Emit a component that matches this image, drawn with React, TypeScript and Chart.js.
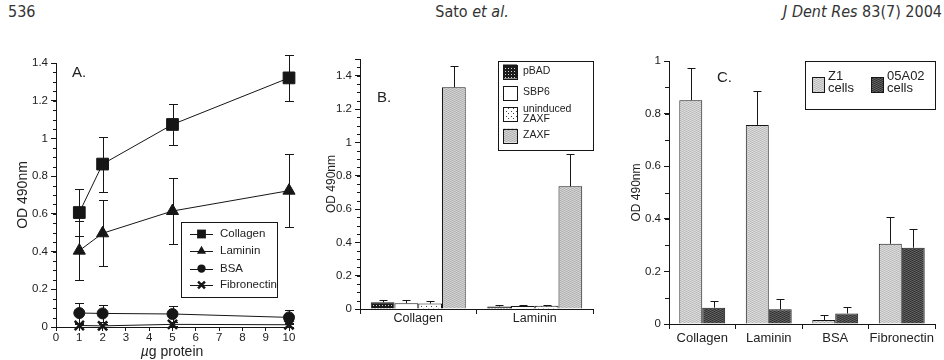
import React, { useEffect, useRef } from 'react';
import { Chart, registerables } from 'chart.js';

Chart.register(...registerables);

const FONT = "'Liberation Sans', Arial, Helvetica, sans-serif";
Chart.defaults.font.family = FONT;

// ---------- Panel A data ----------
const doseA = [1, 2, 5, 10];
const seriesNamesA = ['Collagen', 'Laminin', 'BSA', 'Fibronectin'];
const collagenA = [0.607, 0.864, 1.074, 1.321];
const collagenAErr = [0.125, 0.146, 0.11, 0.12];
const lamininA = [0.405, 0.497, 0.615, 0.723];
const lamininAErr = [0.155, 0.175, 0.177, 0.195];
const bsaA = [0.074, 0.072, 0.069, 0.051];
const bsaAErr = [0.053, 0.043, 0.04, 0.037];
const fibronectinA = [0.008, 0.006, 0.014, 0.012];
const fibronectinAErr = [0.008, 0.008, 0.01, 0.01];
const xTicksA = [0, 10];
const yRangeA = [0, 1.4];

// ---------- Panel B data ----------
const categoriesB = ['Collagen', 'Laminin'];
const seriesNamesB = ['pBAD', 'SBP6', 'uninduced\nZAXF', 'ZAXF'];
const pBAD = [0.04, 0.015];
const pBADErr = [0.015, 0.01];
const sbp6 = [0.035, 0.018];
const sbp6Err = [0.02, 0.006];
const uninducedZAXF = [0.033, 0.02];
const uninducedZAXFErr = [0.017, 0.004];
const zaxf = [1.33, 0.736];
const zaxfErr = [0.126, 0.193];
const yRangeB = [0, 1.5];

// ---------- Panel C data ----------
const categoriesC = ['Collagen', 'Laminin', 'BSA', 'Fibronectin'];
const seriesNamesC = ['Z1\ncells', '05A02\ncells'];
const z1Cells = [0.851, 0.757, 0.015, 0.305];
const z1CellsErr = [0.122, 0.13, 0.019, 0.1];
const a02Cells = [0.062, 0.056, 0.04, 0.29];
const a02CellsErr = [0.025, 0.04, 0.023, 0.072];
const yRangeC = [0, 1];

const INK = '#161616';

// ---------- helpers ----------
function makePattern(kind: string): any {
  const c = document.createElement('canvas');
  const g = c.getContext('2d') as CanvasRenderingContext2D;
  if (kind === 'grid') {
    c.width = 3; c.height = 3;
    g.fillStyle = '#1a1a1a'; g.fillRect(0, 0, 3, 3);
    g.fillStyle = '#cfcfcf'; g.fillRect(1, 1, 1, 1);
  } else if (kind === 'dots') {
    c.width = 5; c.height = 5;
    g.fillStyle = '#ffffff'; g.fillRect(0, 0, 5, 5);
    g.fillStyle = '#444'; g.fillRect(1, 1, 1, 1); g.fillRect(3, 3, 1, 1);
  } else if (kind === 'light') {
    c.width = 4; c.height = 2;
    g.fillStyle = '#c4c4c4'; g.fillRect(0, 0, 4, 2);
    g.fillStyle = '#acacac'; g.fillRect(0, 0, 1, 1); g.fillRect(2, 1, 1, 1);
    g.fillStyle = '#d8d8d8'; g.fillRect(2, 0, 1, 1); g.fillRect(0, 1, 1, 1);
  } else if (kind === 'lighter') {
    c.width = 4; c.height = 2;
    g.fillStyle = '#cdcdcd'; g.fillRect(0, 0, 4, 2);
    g.fillStyle = '#b6b6b6'; g.fillRect(0, 0, 1, 1); g.fillRect(2, 1, 1, 1);
    g.fillStyle = '#e0e0e0'; g.fillRect(2, 0, 1, 1); g.fillRect(0, 1, 1, 1);
  } else {
    c.width = 4; c.height = 2;
    g.fillStyle = '#4a4a4a'; g.fillRect(0, 0, 4, 2);
    g.fillStyle = '#2e2e2e'; g.fillRect(0, 0, 1, 1); g.fillRect(2, 1, 1, 1);
    g.fillStyle = '#666666'; g.fillRect(2, 0, 1, 1); g.fillRect(0, 1, 1, 1);
  }
  return g.createPattern(c, 'repeat');
}

function drawMarker(ctx: CanvasRenderingContext2D, style: string, x: number, y: number, r: number, bw: number) {
  ctx.save();
  ctx.fillStyle = INK; ctx.strokeStyle = INK; ctx.lineWidth = bw;
  ctx.beginPath();
  if (style === 'rect') {
    const s = r * Math.SQRT2;
    ctx.rect(x - s / 2, y - s / 2, s, s); ctx.fill();
  } else if (style === 'triangle') {
    let a = 0;
    ctx.moveTo(x + Math.sin(a) * r, y - Math.cos(a) * r);
    a += (2 * Math.PI) / 3; ctx.lineTo(x + Math.sin(a) * r, y - Math.cos(a) * r);
    a += (2 * Math.PI) / 3; ctx.lineTo(x + Math.sin(a) * r, y - Math.cos(a) * r);
    ctx.closePath(); ctx.fill();
  } else if (style === 'circle') {
    ctx.arc(x, y, r, 0, Math.PI * 2); ctx.fill();
  } else {
    const o = r * Math.SQRT1_2;
    ctx.moveTo(x - o, y - o); ctx.lineTo(x + o, y + o);
    ctx.moveTo(x - o, y + o); ctx.lineTo(x + o, y - o);
    ctx.stroke();
  }
  ctx.restore();
}

const errorBarPlugin = {
  id: 'errorBars',
  afterDatasetsDraw(chart: any) {
    const o = chart.options.plugins.errorBars;
    if (!o) return;
    const ctx = chart.ctx;
    chart.data.datasets.forEach((ds: any, i: number) => {
      if (!ds.errors) return;
      const meta = chart.getDatasetMeta(i);
      const ys = chart.scales[meta.yAxisID];
      meta.data.forEach((el: any, j: number) => {
        const d = ds.data[j];
        const v = typeof d === 'number' ? d : d.y;
        const e = ds.errors[j];
        const x = Math.round(el.x) + 0.5;
        const yv = ys.getPixelForValue(v);
        const yHi = Math.round(ys.getPixelForValue(v + e)) + 0.5;
        const yLo = Math.round(ys.getPixelForValue(Math.max(0, v - e))) + 0.5;
        ctx.save();
        ctx.strokeStyle = INK; ctx.lineWidth = 1;
        ctx.beginPath();
        ctx.moveTo(x, o.both ? yLo : yv); ctx.lineTo(x, yHi);
        ctx.moveTo(x - o.cap / 2, yHi); ctx.lineTo(x + o.cap / 2, yHi);
        if (o.both) { ctx.moveTo(x - o.cap / 2, yLo); ctx.lineTo(x + o.cap / 2, yLo); }
        ctx.stroke();
        ctx.restore();
      });
    });
  },
};

const minorTicksPlugin = {
  id: 'minorTicks',
  afterDraw(chart: any) {
    const o = chart.options.plugins.minorTicks;
    if (!o) return;
    const s = chart.scales.y;
    const ctx = chart.ctx;
    ctx.save(); ctx.strokeStyle = INK; ctx.lineWidth = 1; ctx.beginPath();
    const n = Math.round((s.max - s.min) / o.step);
    for (let k = 0; k <= n; k++) {
      const p = Math.round(s.getPixelForValue(s.min + k * o.step)) + 0.5;
      ctx.moveTo(s.right - o.len, p); ctx.lineTo(s.right, p);
    }
    ctx.stroke(); ctx.restore();
  },
};

const boxLegendPlugin = {
  id: 'boxLegend',
  afterDraw(chart: any) {
    const o = chart.options.plugins.boxLegend;
    if (!o) return;
    const ctx = chart.ctx;
    const [bx, by, bw, bh] = o.box;
    ctx.save();
    ctx.fillStyle = '#fff'; ctx.fillRect(bx, by, bw, bh);
    ctx.strokeStyle = INK; ctx.lineWidth = 1;
    ctx.strokeRect(Math.round(bx) + 0.5, Math.round(by) + 0.5, Math.round(bw), Math.round(bh));
    ctx.font = `${o.fontSize}px ${FONT}`;
    ctx.textBaseline = 'middle';
    chart.data.datasets.forEach((ds: any, i: number) => {
      const [ix, iy] = o.items[i];
      if (o.kind === 'line') {
        ctx.strokeStyle = INK; ctx.lineWidth = 1;
        ctx.beginPath(); ctx.moveTo(ix, Math.round(iy) + 0.5); ctx.lineTo(ix + o.lineLen, Math.round(iy) + 0.5); ctx.stroke();
        drawMarker(ctx, ds.pointStyle, ix + o.lineLen / 2, iy, ds.pointRadius * o.markerScale, ds.pointBorderWidth);
      } else {
        ctx.fillStyle = ds.backgroundColor;
        ctx.fillRect(ix, iy - o.swH / 2, o.swW, o.swH);
        ctx.strokeStyle = INK; ctx.lineWidth = 1;
        ctx.strokeRect(Math.round(ix) + 0.5, Math.round(iy - o.swH / 2) + 0.5, o.swW, o.swH);
      }
      const lines = String(ds.label).split('\n');
      ctx.fillStyle = '#222';
      lines.forEach((t: string, k: number) => {
        ctx.fillText(t, ix + o.textDx, iy + o.textDy + (k - (lines.length - 1) / 2) * o.lineH);
      });
    });
    ctx.restore();
  },
};

Chart.register(errorBarPlugin, minorTicksPlugin, boxLegendPlugin);

function yAxis(range: number[], width: number, step: number, titleSize: number, titlePad: number, maxLabel: number) {
  return {
    min: range[0],
    max: range[1],
    afterFit: (s: any) => { s.width = width; },
    border: { display: true, color: INK, width: 1 },
    grid: { display: true, drawOnChartArea: false, drawTicks: true, tickLength: 5, tickColor: INK },
    ticks: {
      stepSize: step,
      color: '#222',
      font: { size: 11.5 },
      padding: 3,
      callback: (v: number) => (v > maxLabel + 1e-6 ? '' : String(Math.round(v * 10) / 10)),
    },
    title: { display: true, text: 'OD 490nm', color: '#222', font: { size: titleSize }, padding: { top: titlePad, bottom: 0 } },
  };
}

function catAxis(height: number, fontSize: number, pad: number) {
  return {
    afterFit: (s: any) => { s.height = height; },
    border: { display: true, color: INK, width: 1 },
    grid: { display: true, drawOnChartArea: false, drawTicks: true, tickLength: 5, tickColor: INK, offset: true },
    ticks: { color: '#222', font: { size: fontSize }, padding: pad, maxRotation: 0, autoSkip: false },
  };
}

function configA(): any {
  const mk = (name: string, vals: number[], errs: number[], style: string, r: number, bw: number) => ({
    label: name,
    data: doseA.map((x, i) => ({ x, y: vals[i] })),
    errors: errs,
    showLine: true,
    borderColor: INK,
    borderWidth: 1,
    pointStyle: style,
    pointRadius: r,
    pointBackgroundColor: INK,
    pointBorderColor: INK,
    pointBorderWidth: bw,
    clip: false,
  });
  return {
    type: 'scatter',
    data: {
      datasets: [
        mk(seriesNamesA[0], collagenA, collagenAErr, 'rect', 8.3, 1),
        mk(seriesNamesA[1], lamininA, lamininAErr, 'triangle', 7, 1),
        mk(seriesNamesA[2], bsaA, bsaAErr, 'circle', 5.5, 1),
        mk(seriesNamesA[3], fibronectinA, fibronectinAErr, 'crossRot', 6.5, 2.5),
      ],
    },
    options: {
      responsive: false,
      animation: false,
      events: [],
      layout: { padding: { left: 0, right: 11, top: 23, bottom: 0 } },
      scales: {
        x: {
          type: 'linear',
          min: xTicksA[0],
          max: xTicksA[1],
          afterFit: (s: any) => { s.height = 33; },
          border: { display: true, color: INK, width: 1 },
          grid: { display: true, drawOnChartArea: false, drawTicks: true, tickLength: 4, tickColor: INK },
          ticks: { stepSize: 1, color: '#222', font: { size: 11.5 }, padding: 0, maxRotation: 0 },
        },
        y: yAxis(yRangeA, 56, 0.2, 14, 14.5, 1.4),
      },
      plugins: {
        legend: { display: false },
        tooltip: { enabled: false },
        errorBars: { cap: 9, both: true },
        minorTicks: { step: 0.05, len: 3 },
        boxLegend: {
          kind: 'line', box: [181, 182, 96, 75], fontSize: 11.5,
          items: [[190, 194], [190, 211], [190, 228.5], [190, 245]],
          lineLen: 23, markerScale: 0.75, textDx: 30, textDy: 0, lineH: 12,
        },
      },
    },
  };
}

function configB(): any {
  const fills = [makePattern('grid'), '#ffffff', makePattern('dots'), makePattern('light')];
  const vals = [pBAD, sbp6, uninducedZAXF, zaxf];
  const errs = [pBADErr, sbp6Err, uninducedZAXFErr, zaxfErr];
  return {
    type: 'bar',
    data: {
      labels: categoriesB,
      datasets: seriesNamesB.map((name, i) => ({
        label: name,
        data: vals[i],
        errors: errs[i],
        backgroundColor: fills[i],
        borderColor: INK,
        borderWidth: 1,
        barPercentage: 1,
        categoryPercentage: 0.815,
      })),
    },
    options: {
      responsive: false,
      animation: false,
      events: [],
      layout: { padding: { left: 0, right: 27, top: 19, bottom: 0 } },
      scales: {
        x: catAxis(51, 12.5, -3),
        y: yAxis(yRangeB, 60, 0.2, 12, 24.5, 1.4),
      },
      plugins: {
        legend: { display: false },
        tooltip: { enabled: false },
        errorBars: { cap: 8, both: false },
        minorTicks: { step: 0.05, len: 3 },
        boxLegend: {
          kind: 'box', box: [198, 20.5, 95, 88.5], fontSize: 10.5,
          items: [[203, 31.5], [203, 52.5], [203, 74], [203, 95.5]],
          swW: 14, swH: 14, textDx: 20, textDy: 0, lineH: 10,
        },
      },
    },
  };
}

function configC(): any {
  const fills = [makePattern('lighter'), makePattern('dark')];
  const vals = [z1Cells, a02Cells];
  const errs = [z1CellsErr, a02CellsErr];
  return {
    type: 'bar',
    data: {
      labels: categoriesC,
      datasets: seriesNamesC.map((name, i) => ({
        label: name,
        data: vals[i],
        errors: errs[i],
        backgroundColor: fills[i],
        borderColor: INK,
        borderWidth: 1,
        barPercentage: 1,
        categoryPercentage: 0.69,
      })),
    },
    options: {
      responsive: false,
      animation: false,
      events: [],
      layout: { padding: { left: 0, right: 9, top: 21, bottom: 0 } },
      scales: {
        x: catAxis(36, 13, 2),
        y: yAxis(yRangeC, 49, 0.2, 12, 9.5, 1),
      },
      plugins: {
        legend: { display: false },
        tooltip: { enabled: false },
        errorBars: { cap: 8, both: false },
        minorTicks: { step: 0.1, len: 4 },
        boxLegend: {
          kind: 'box', box: [185, 20.5, 130, 48], fontSize: 13,
          items: [[192, 44.5], [251, 44.5]],
          swW: 12, swH: 15, textDx: 16, textDy: -2.5, lineH: 12,
        },
      },
    },
  };
}

function ChartCanvas({ build, left, top, width, height }: { build: () => any; left: number; top: number; width: number; height: number }) {
  const ref = useRef<HTMLCanvasElement | null>(null);
  useEffect(() => {
    const chart = new Chart(ref.current as HTMLCanvasElement, build());
    return () => chart.destroy();
  }, []);
  return (
    <canvas
      ref={ref}
      width={width}
      height={height}
      style={{ position: 'absolute', left, top, width, height }}
    />
  );
}

const headerFont = "'Liberation Sans Narrow', 'DejaVu Sans Condensed', 'Liberation Sans', sans-serif";

export default function App() {
  const label = (txt: string, left: number, top: number, size: number) => (
    <div style={{ position: 'absolute', left, top, fontSize: size, fontFamily: FONT, color: '#222', lineHeight: 1 }}>{txt}</div>
  );
  return (
    <div style={{ position: 'fixed', left: 0, top: 0, width: 944, height: 360, background: '#fff', overflow: 'hidden', fontFamily: FONT }}>
      <div style={{ position: 'absolute', left: 8, top: 4, fontSize: 16, fontFamily: headerFont, fontStretch: 'condensed', color: '#333', lineHeight: 1 }}>536</div>
      <div style={{ position: 'absolute', left: 0, width: 944, top: 4, textAlign: 'center', fontSize: 16, fontFamily: headerFont, fontStretch: 'condensed', color: '#333', lineHeight: 1 }}>
        Sato <i>et al.</i>
      </div>
      <div style={{ position: 'absolute', right: 2, top: 4, fontSize: 16, fontFamily: headerFont, fontStretch: 'condensed', color: '#333', lineHeight: 1, fontStyle: 'italic' }}>
        J Dent Res <span style={{ fontStyle: 'normal' }}>83(7) 2004</span>
      </div>

      <ChartCanvas build={configA} left={0} top={40} width={300} height={320} />
      <ChartCanvas build={configB} left={300} top={40} width={320} height={320} />
      <ChartCanvas build={configC} left={620} top={40} width={324} height={320} />

      {label('A.', 72, 64, 15)}
      {label('B.', 377, 89, 15)}
      {label('C.', 717, 69, 15)}
      <div style={{ position: 'absolute', left: 122, width: 100, top: 344, textAlign: 'center', fontSize: 14, fontFamily: FONT, color: '#222', lineHeight: 1 }}>
        <i>µ</i>g protein
      </div>
    </div>
  );
}
